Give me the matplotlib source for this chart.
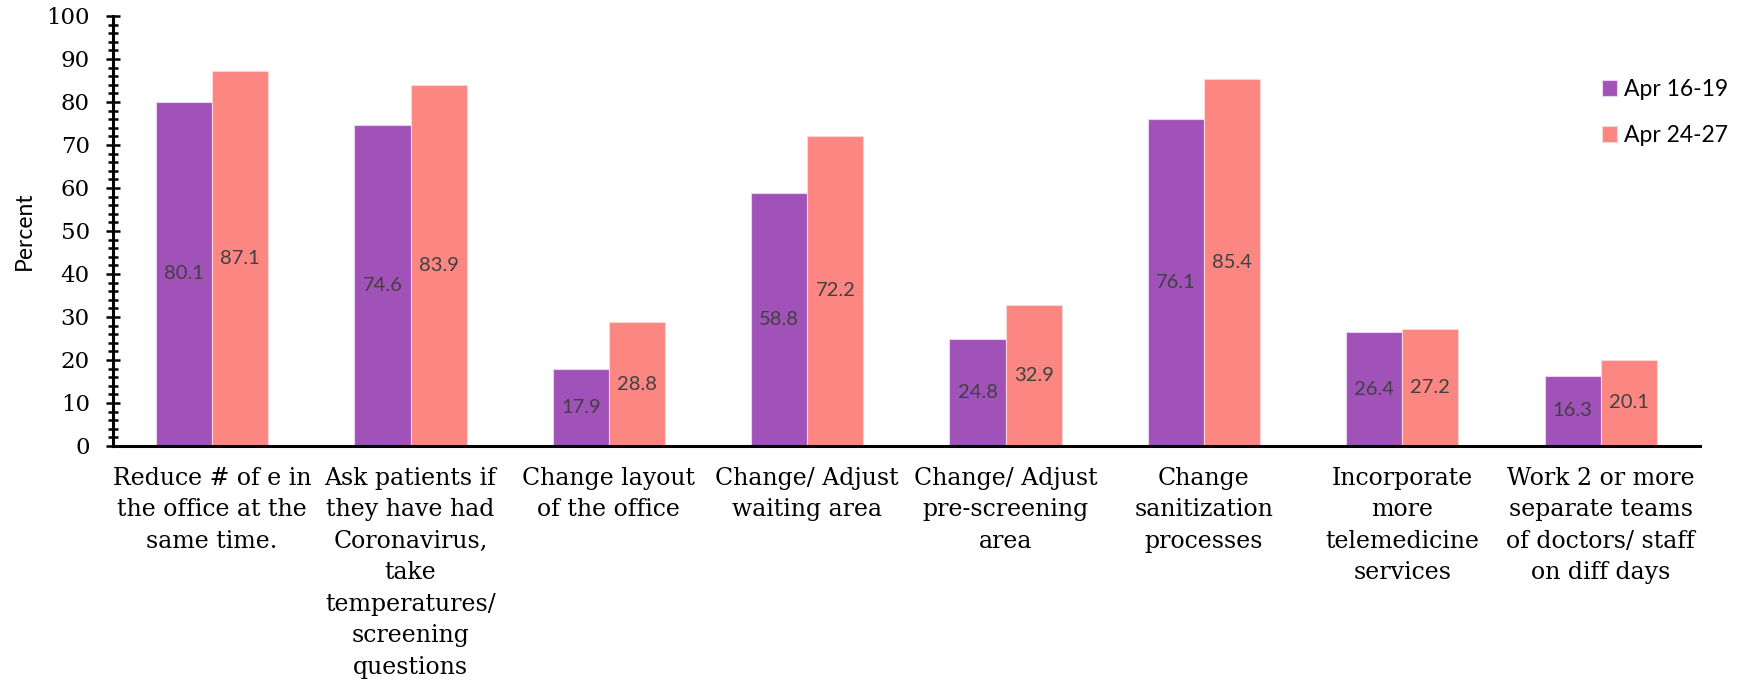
import numpy as np
import matplotlib
matplotlib.use("Agg")
import matplotlib.pyplot as plt
from matplotlib.ticker import MultipleLocator

# data
categories = [
    "Reduce # of e in\nthe office at the\nsame time.",
    "Ask patients if\nthey have had\nCoronavirus,\ntake\ntemperatures/\nscreening\nquestions",
    "Change layout\nof the office",
    "Change/ Adjust\nwaiting area",
    "Change/ Adjust\npre-screening\narea",
    "Change\nsanitization\nprocesses",
    "Incorporate\nmore\ntelemedicine\nservices",
    "Work 2 or more\nseparate teams\nof doctors/ staff\non diff days",
]
apr_16_19 = [80.1, 74.6, 17.9, 58.8, 24.8, 76.1, 26.4, 16.3]
apr_24_27 = [87.1, 83.9, 28.8, 72.2, 32.9, 85.4, 27.2, 20.1]
series_names = ["Apr 16-19", "Apr 24-27"]

purple = "#A052B9"
pink = "#FB8682"
serif = "DejaVu Serif"
sans = "Lato"

fig = plt.figure(figsize=(17.46, 6.83), dpi=100)
ax = fig.add_axes([0.0647, 0.347, 0.9089, 0.6296])

x = np.arange(len(categories))
w = 0.283
b1 = ax.bar(x - w / 2, apr_16_19, w, color=purple, edgecolor="#E9D3F0", linewidth=0.8, label=series_names[0])
b2 = ax.bar(x + w / 2, apr_24_27, w, color=pink, edgecolor="#FDD5D3", linewidth=0.8, label=series_names[1])

for bars in (b1, b2):
    ax.bar_label(bars, fmt="%.1f", label_type="center", color="#404040",
                 fontsize=14.5, family=sans)

ax.set_xlim(-0.5, len(categories) - 0.5)
ax.set_ylim(0, 100)
ax.yaxis.set_major_locator(MultipleLocator(10))
ax.yaxis.set_minor_locator(MultipleLocator(2))
ax.tick_params(axis="y", which="major", direction="inout", length=9.5, width=1.8, labelsize=16.5, pad=12)
ax.tick_params(axis="y", which="minor", direction="inout", length=7, width=1.8)
for lab in ax.get_yticklabels():
    lab.set_family(serif)

ax.set_xticks(x)
ax.set_xticklabels(categories, family=serif, fontsize=17, linespacing=1.47, va="top")
ax.tick_params(axis="x", length=0, pad=15)

ax.spines["top"].set_visible(False)
ax.spines["right"].set_visible(False)
ax.spines["left"].set_linewidth(2.2)
ax.spines["bottom"].set_linewidth(2.2)

ax.set_ylabel("Percent", family=sans, fontsize=16.5, va="center")
ax.yaxis.set_label_coords(-0.056, 0.5)

fig.legend(handles=[b1, b2], labels=series_names, loc="upper left",
           bbox_to_anchor=(1602 / 1746, 1 - 79 / 683), frameon=False,
           prop={"family": sans, "size": 16.5}, handlelength=0.66, handleheight=0.66,
           handletextpad=0.3, labelspacing=1.1, borderpad=0, borderaxespad=0)

fig.savefig("out.png", dpi=100)
